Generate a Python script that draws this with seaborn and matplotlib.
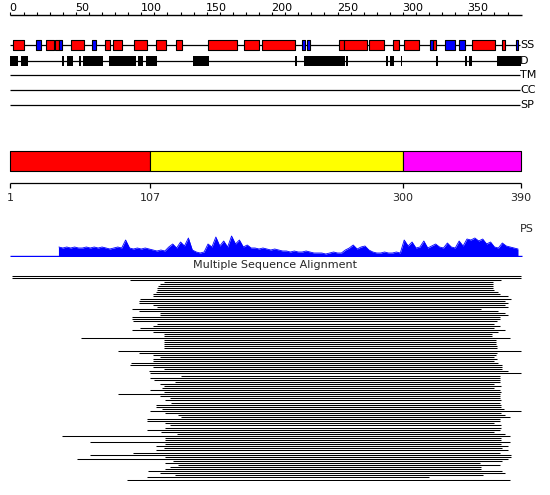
import numpy as np
import matplotlib
matplotlib.use("Agg")
import matplotlib.pyplot as plt
import seaborn as sns

seq_len = 390

# secondary structure (residue ranges)
helix_start = [2.1, 27.4, 34.3, 46.5, 72.5, 78.6, 94.6, 111.5, 126.8, 151.2, 178.7, 192.5,
               251.4, 254.7, 274.3, 292.7, 301.1, 323.2, 353.1, 375.5]
helix_end = [10.6, 33.0, 36.9, 56.4, 76.3, 85.5, 104.6, 119.1, 130.9, 173.4, 190.2, 217.7,
             254.7, 272.8, 285.8, 296.8, 312.3, 325.5, 370.4, 378.3]
strand_start = [19.7, 36.9, 62.5, 223.1, 226.9, 320.5, 332.4, 343.1, 386.5]
strand_end = [23.1, 39.6, 65.1, 225.4, 229.0, 322.8, 340.1, 347.7, 387.8]

# disorder
disorder_start = [0, 8.0, 39.4, 43.2, 52.4, 55.4, 75.3, 97.5, 103.6, 139.8, 217.7, 224.6,
                  256.7, 287.3, 289.9, 298.5, 325.5, 347.5, 350.3, 372.2]
disorder_end = [5.5, 13.1, 40.7, 47.6, 53.7, 70.5, 95.7, 101.3, 111.8, 151.5, 218.8, 255.5,
                257.8, 288.8, 293.0, 299.5, 326.6, 348.8, 353.1, 390]

track_labels = ["SS", "D", "TM", "CC", "SP"]

# domains
domain_bounds = [1, 107, 300, 390]
domain_colors = ["#ff0000", "#ffff00", "#ff00ff"]

# ruler
ruler_minor = list(range(0, 390, 10))
ruler_major = list(range(0, 351, 50))

# PS profile, one value every 3 residues from 37
ps_first, ps_step = 37, 3
ps_values = [9, 8, 9, 8, 9, 8, 8, 9, 8, 9, 8, 9, 8, 7, 8, 9, 8,
             16,
             8, 7, 8, 7, 8, 7,
             6, 5, 6, 5,
             9, 12, 8, 14, 10, 18,
             6, 4, 3, 4,
             12, 9, 19, 10, 15, 9, 20, 12, 16, 9, 11, 8,
             8, 7, 8, 7, 6, 7, 6,
             5, 5, 4, 5, 4, 4, 5, 4, 3,
             3, 3, 2, 3, 4, 3, 3,
             6, 8, 11, 7, 9, 10, 6,
             4, 3, 3, 4, 3, 3, 4, 3,
             16, 10, 14, 8, 9, 15, 8, 10, 12, 9, 8, 13, 9, 8, 15, 10, 17, 16, 18, 15,
             17, 12, 14, 9, 8, 13, 10, 9, 8, 7]

# multiple sequence alignment: aligned range per hit
msa_start = [1, 1, 91, 117, 114, 113, 112, 112, 111, 109, 109, 99, 98, 98, 109, 112, 93, 98,
             114, 114, 93, 93, 94, 112, 109, 99, 93, 109, 117, 117, 54, 117, 117, 117, 117,
             117, 82, 98, 109, 114, 109, 109, 92, 91, 109, 117, 106,
             107, 130, 107, 110, 126, 114, 117, 116, 107, 117, 82, 114, 122, 118, 123, 111,
             111, 116, 107, 118, 128, 130, 104, 104, 118, 122, 118, 104, 115, 127, 39, 118,
             118, 61, 118, 111, 117, 111, 94, 61, 118, 51, 124, 118, 128, 122, 118, 105, 114,
             126, 104, 89]
msa_end = [390, 390, 375, 369, 369, 369, 369, 370, 373, 374, 380, 383, 378, 380, 378, 380,
           360, 373, 378, 380, 374, 374, 372, 370, 374, 370, 378, 373, 368, 368, 382, 371,
           371, 371, 372, 372, 390, 372, 371, 370, 372, 370, 373, 376, 376, 376, 380,
           390, 374, 374, 374, 374, 370, 375, 370, 374, 375, 374, 374, 374, 375, 374, 375,
           375, 377, 390, 375, 378, 382, 374, 374, 370, 375, 375, 374, 370, 378, 382, 375,
           375, 382, 375, 380, 376, 380, 374, 383, 383, 380, 376, 359, 374, 360, 360, 376,
           378, 361, 320, 382]

sns.set_theme(style="white")
plt.rcParams["font.family"] = ["DejaVu Sans"]

W, H = 550, 495
px_per_res = 1.308
x0 = -10.5 / px_per_res
x1 = (W - 10.5) / px_per_res
fs = 8

fig = plt.figure(figsize=(W / 100, H / 100), dpi=100)
fig.patch.set_facecolor("white")

# main axes in pixel rows
ax = fig.add_axes([0, 0, 1, 1])
ax.set_xlim(x0, x1)
ax.set_ylim(H, 0)
ax.axis("off")

# ruler
ax.hlines(15, 0, 391, color="black", lw=1)
ax.vlines(ruler_minor, 12, 15, color="black", lw=0.8)
for t in ruler_major:
    ax.text(t - 0.6, 11, str(t), fontsize=fs, ha="left", va="baseline", color="black")

# feature tracks
track_y = [45, 60.5, 75, 90, 105]
ax.hlines(track_y, 0, 389.5, color="black", lw=0.9, zorder=1)
ax.broken_barh([(s, e - s) for s, e in zip(helix_start, helix_end)], (40, 10),
               facecolor="#ff0000", edgecolor="black", lw=0.8, zorder=2)
ax.broken_barh([(s, e - s) for s, e in zip(strand_start, strand_end)], (40, 10),
               facecolor="#0000ff", edgecolor="black", lw=0.8, zorder=2)
ax.broken_barh([(s, e - s) for s, e in zip(disorder_start, disorder_end)], (55.5, 10.2),
               facecolor="black", edgecolor="none", zorder=2)
for lab, y in zip(track_labels, track_y):
    ax.text(389.5, y, lab, fontsize=fs, ha="left", va="center", color="black")

# domain bar
for i, c in enumerate(domain_colors):
    a, b = domain_bounds[i], domain_bounds[i + 1]
    ax.broken_barh([(a - 1 if i == 0 else a, b - (a - 1 if i == 0 else a))], (150.5, 20.5),
                   facecolor=c, edgecolor="black", lw=0.8)
ax.hlines(182.5, 0, 390, color="black", lw=0.9)
ax.vlines([0, 107, 300, 390], 182.5, 187.5, color="black", lw=0.9)
for i, b in enumerate(domain_bounds):
    ax.text(0 if i == 0 else b, 198, str(b), fontsize=fs, ha="center", va="center")

ax.text(389.5, 229, "PS", fontsize=fs, ha="left", va="center")
ax.text((W / 2 - 10.5) / px_per_res, 265.5, "Multiple Sequence Alignment", fontsize=fs,
        ha="center", va="center")

# PS profile
ps_res = ps_first + ps_step * np.arange(len(ps_values))
ax_ps = fig.add_axes([0, (H - 257) / H, 1, 27 / H])
ax_ps.set_xlim(x0, x1)
ax_ps.set_ylim(-1, 26)
ax_ps.axis("off")
ax_ps.fill_between(ps_res, 0, ps_values, color="#0000ff", lw=0)
sns.lineplot(x=ps_res, y=ps_values, ax=ax_ps, color="#0000ff", lw=0.6)
ax_ps.vlines(ps_res[0], 0, ps_values[0], color="#0000ff", lw=0.8)
ax_ps.hlines(0, 0, 391, color="#0000ff", lw=1)

# MSA
n = len(msa_start)
top_px, step_px = 275.7, 2.08
ax_m = fig.add_axes([0, (H - (top_px + (n - 0.5) * step_px)) / H, 1, n * step_px / H])
ax_m.set_xlim(x0, x1)
ax_m.set_ylim(n - 0.5, -0.5)
ax_m.axis("off")
ax_m.hlines(np.arange(n), msa_start, msa_end, color="black", lw=0.75)

fig.savefig("out.png", dpi=100, facecolor="white")
